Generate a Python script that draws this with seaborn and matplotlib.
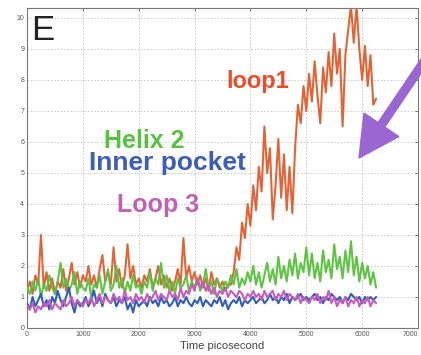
import numpy as np
import pandas as pd
import matplotlib
matplotlib.use("Agg")
import matplotlib.pyplot as plt
import seaborn as sns
from matplotlib.patches import FancyArrow
from matplotlib.transforms import IdentityTransform

# ---- data (values every 50 ps) ----
STEP_PS = 50
loop1 = [1.2,1.5,1.1,1.7,1.4,3.0,1.3,1.8,1.2,1.6,1.1,1.5,1.3,1.9,1.2,1.6,2.1,1.4,1.8,1.3,1.7,
         1.5,2.0,1.4,1.7,1.3,1.9,2.35,1.5,1.8,1.4,2.6,1.5,1.9,1.3,1.7,2.7,1.6,2.0,1.4,1.6,
         1.3,1.7,1.5,1.9,1.3,1.6,2.0,1.4,1.7,1.3,1.6,1.2,1.5,1.9,1.4,2.9,1.6,2.0,1.5,1.8,
         1.4,1.7,1.3,1.6,1.2,1.8,1.4,1.6,1.3,1.5,1.2,1.4,1.4,1.8,2.6,2.2,3.4,2.9,4.0,3.3,
         4.6,3.8,5.2,4.4,6.5,5.0,5.8,3.5,4.6,6.1,4.2,5.6,3.8,5.2,3.7,5.8,7.2,6.6,7.8,7.0,
         8.2,7.3,8.6,7.5,6.6,8.4,7.6,8.9,7.8,9.5,8.2,9.0,6.5,8.8,9.6,10.4,9.2,10.4,9.0,8.0,
         9.1,7.8,8.8,7.2,7.4]
helix2 = [1.3,1.1,1.5,1.2,1.6,1.0,1.4,1.2,1.7,1.3,1.1,1.5,2.1,1.3,1.6,1.2,1.4,1.8,1.1,1.5,1.3,
          1.2,1.6,1.0,1.4,1.3,1.7,1.1,1.5,1.9,1.2,1.4,2.0,1.3,1.6,1.1,1.5,1.2,1.7,1.3,1.4,
          1.1,1.5,1.3,1.8,1.2,1.6,1.4,2.1,1.3,1.7,1.2,1.5,1.1,1.6,1.3,1.4,1.7,1.2,1.5,1.3,
          1.6,1.2,1.4,1.9,1.3,1.5,1.1,1.6,1.4,1.2,1.5,1.3,1.7,1.4,1.9,1.3,1.6,1.4,1.8,1.5,
          2.0,1.4,1.8,1.3,1.7,2.1,1.5,1.9,1.4,2.3,1.6,2.0,1.5,2.2,1.7,2.4,1.6,2.1,1.8,2.6,
          1.7,2.4,1.6,2.1,1.5,2.5,1.8,2.2,1.6,2.7,1.9,2.3,1.6,2.5,1.8,2.8,1.7,2.3,1.5,2.1,
          1.6,2.0,1.4,1.8,1.3]
inner_pocket = [0.8,0.6,1.0,0.7,0.9,1.1,0.7,0.9,0.6,1.0,0.8,1.2,0.9,0.7,1.0,1.3,0.8,0.5,0.9,0.7,0.8,
                1.0,0.7,0.9,1.2,0.8,1.0,0.7,1.1,0.9,0.8,1.0,0.7,0.9,0.8,1.0,0.6,0.8,0.5,0.9,0.7,
                0.8,0.9,0.7,1.0,0.8,0.9,0.7,1.0,0.8,0.9,0.7,0.8,1.0,0.7,0.9,0.8,1.0,0.8,0.7,0.9,
                0.8,1.0,0.7,0.9,0.8,0.7,0.9,0.8,1.0,0.7,0.9,0.6,0.8,0.9,0.8,1.0,0.7,0.9,0.8,0.9,
                1.0,0.8,0.9,1.0,0.8,0.9,1.1,0.9,1.0,0.8,1.0,0.9,1.1,0.8,1.0,0.9,1.0,1.1,0.9,1.0,
                0.9,1.0,1.1,0.9,1.0,0.8,1.0,0.9,1.1,1.0,0.9,1.0,0.8,1.0,0.9,1.1,1.0,0.9,1.0,0.8,
                1.0,0.9,1.0,0.9,1.0]
loop3 = [0.7,0.6,0.8,0.5,0.7,0.6,0.8,0.7,0.9,0.6,0.8,0.7,0.6,0.9,0.7,0.8,1.0,0.7,0.9,0.8,0.7,
         0.9,0.8,1.0,0.7,0.9,1.1,0.8,1.0,0.9,0.8,1.1,0.9,1.0,0.8,1.2,0.9,1.0,0.8,1.1,0.9,
         1.0,0.8,1.1,0.9,1.0,1.2,0.9,1.1,1.0,0.9,1.2,1.0,1.1,0.9,1.3,1.0,1.2,1.1,1.4,1.2,
         1.6,1.3,1.5,1.2,1.4,1.1,1.3,1.0,1.2,1.1,1.3,1.0,1.2,1.1,1.0,1.2,1.1,0.9,1.1,1.0,
         1.2,1.0,1.1,0.9,1.2,1.0,1.1,1.2,0.9,1.1,1.0,1.2,0.9,1.1,1.0,0.9,1.1,0.8,1.0,0.9,
         0.8,1.0,0.9,1.1,0.8,1.0,0.9,1.2,0.8,1.0,0.7,0.9,0.8,1.0,0.7,0.9,0.8,1.0,0.7,0.9,
         0.8,1.0,0.7,0.9,0.8]

x_ticks = [0, 1000, 2000, 3000, 4000, 5000, 6000, 7000]
x_tick_labels = ["0", "1000", "2000", "3000", "4000", "5000", "6000", "7000"]
y_ticks = [0, 1, 2, 3, 4, 5, 6, 7, 8, 9, 10]

series_names = ["loop1", "Helix 2", "Inner pocket", "Loop 3"]
series_values = [loop1, helix2, inner_pocket, loop3]
line_colors = ["#F2622E", "#5EC444", "#2F5DBA", "#C65DBB"]
label_colors = ["#EE4B2B", "#58C142", "#3C5DBB", "#C060B5"]

# ---- figure ----
sns.set_style("white")
plt.rcParams["font.family"] = ["Liberation Sans", "DejaVu Sans"]

W, H = 421, 355
fig = plt.figure(figsize=(W / 100, H / 100), dpi=100)
ax = fig.add_axes([27 / W, 1 - 328 / H, 391 / W, 320 / H])

for name, vals, col in zip(series_names, series_values, line_colors):
    df = pd.DataFrame({"t": np.arange(len(vals)) * STEP_PS, "v": vals})
    sns.lineplot(data=df, x="t", y="v", ax=ax, color=col, lw=1.5, zorder=3)
    if name == "loop1":
        sns.lineplot(data=df, x="t", y="v", ax=ax, color="#777777", lw=0.35,
                     alpha=0.45, zorder=3.1)

ax.set_xlim(0, 7000)
ax.set_ylim(0, 10.32)
ax.set_xticks(x_ticks)
ax.set_xticklabels(x_tick_labels)
ax.get_xticklabels()[-1].set_horizontalalignment("right")
ax.set_yticks(y_ticks)
ax.tick_params(axis="both", direction="in", length=2.5, width=0.6, labelsize=5,
               labelcolor="#555555", color="#666666", top=True, right=True, pad=2)
ax.grid(True, ls=(0, (2, 2)), color="#C4C4C4", lw=0.6)
for s in ax.spines.values():
    s.set_color("#777777")
    s.set_linewidth(0.8)
ax.set_xlabel("Time picosecond", fontsize=8, color="#444444", labelpad=2)
ax.set_ylabel("")

def ftext(px, py, s, **kw):
    fig.text(px / W, 1 - py / H, s, ha="left", va="baseline", **kw)

ftext(31, 40, "E", fontsize=25, color="#222222")
ftext(226, 88, series_names[0], fontsize=17, fontweight="bold", color=label_colors[0])
ftext(104, 148, series_names[1], fontsize=18, fontweight="bold", color=label_colors[1])
ftext(89, 170, series_names[2], fontsize=19, fontweight="bold", color=label_colors[2])
ftext(117, 212, series_names[3], fontsize=18, fontweight="bold", color=label_colors[3])

# purple arrow (pixel coords, y flipped)
tail = (432, 50)
tip = (359, 158)
arr = FancyArrow(tail[0], H - tail[1], tip[0] - tail[0], -(tip[1] - tail[1]),
                 width=8, head_width=42, head_length=40, length_includes_head=True,
                 color="#9966D2", transform=IdentityTransform())
fig.add_artist(arr)

fig.savefig("out.png", dpi=100)
